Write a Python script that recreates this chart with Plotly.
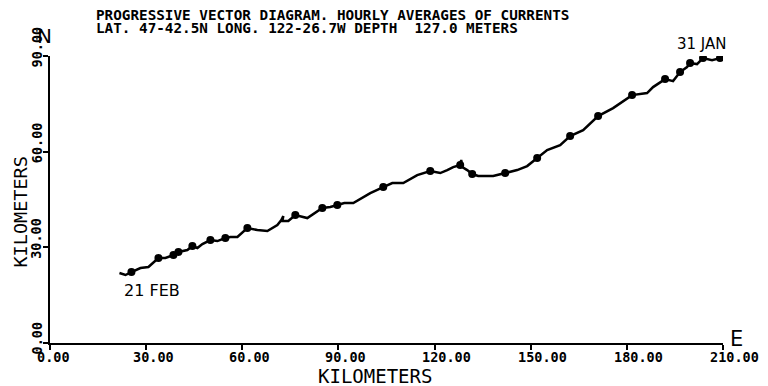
import plotly.graph_objects as go

# ---------------- data (km east, km north) ----------------
track_east = [21.67, 23.54, 25.41, 28.22, 30.71, 32.27, 33.83, 36.01, 38.51, 40.07,
              42.87, 44.43, 45.99, 47.55, 50.05, 52.23, 54.72, 56.28, 58.47, 61.58,
              64.70, 67.82, 70.94, 72.19, 72.81, 72.50, 74.37, 76.55, 80.29, 84.97,
              87.46, 89.65, 91.83, 94.64, 99.94, 103.99, 106.80, 110.23, 114.59, 118.65,
              121.77, 123.95, 125.82, 128.00, 128.31, 128.62, 130.18, 131.74, 133.61, 138.29,
              142.03, 145.77, 148.89, 152.01, 155.13, 159.18, 162.30, 166.36, 171.03, 175.71,
              181.63, 186.31, 188.18, 191.92, 194.42, 196.60, 198.78, 199.72, 201.90, 203.77,
              206.58, 209.07, 209.90]
track_north = [21.94, 21.32, 22.26, 23.51, 23.82, 25.39, 26.65, 26.65, 27.59, 28.53,
               29.15, 30.41, 29.78, 31.03, 32.29, 31.97, 32.92, 33.23, 33.23, 36.05,
               35.42, 35.11, 36.99, 38.56, 39.81, 38.24, 38.24, 40.13, 39.18, 42.32,
               42.63, 43.26, 43.89, 43.89, 47.02, 48.90, 50.16, 50.16, 52.66, 53.92,
               53.29, 54.23, 55.17, 55.80, 57.37, 55.17, 54.23, 52.98, 52.35, 52.35,
               53.29, 54.23, 55.49, 57.99, 60.50, 62.07, 64.89, 66.77, 71.16, 73.67,
               77.74, 78.37, 80.25, 82.76, 82.13, 84.95, 86.52, 87.77, 87.46, 89.34,
               88.71, 89.34, 89.66]

loop_east = [25.41, 33.83, 38.51, 40.07, 44.43, 50.05, 54.72, 61.58, 76.55, 84.97,
             89.65, 103.99, 118.65, 128.00, 131.74, 142.03, 152.01, 162.30, 171.03, 181.63,
             191.92, 196.60, 199.72, 203.77, 209.07]
loop_north = [22.26, 26.65, 27.59, 28.53, 30.41, 32.29, 32.92, 36.05, 40.13, 42.32,
              43.26, 48.90, 53.92, 55.80, 52.98, 53.29, 57.99, 64.89, 71.16, 77.74,
              82.76, 84.95, 87.77, 89.34, 89.34]

x_ticks = [0, 30, 60, 90, 120, 150, 180, 210]
x_tick_labels = ["0.00", "30.00", "60.00", "90.00", "120.00", "150.00", "180.00", "210.00"]
y_ticks = [0, 30, 60, 90]
y_tick_labels = ["0.00", "30.00", "60.00", "90.00"]

title_1 = "PROGRESSIVE VECTOR DIAGRAM. HOURLY AVERAGES OF CURRENTS"
title_2 = "LAT. 47-42.5N LONG. 122-26.7W DEPTH&nbsp; 127.0 METERS"
axis_title = "KILOMETERS"
start_label = "31 JAN"
end_label = "21 FEB"

# ---------------- layout geometry (pixels) ----------------
W, H = 768, 386
PL, PR, PT, PB = 49.5, 723, 56, 343


def px_x(px):
    return (px - PL) / (PR - PL)


def px_y(py):
    return (PB - py) / (PB - PT)


MONO = "DejaVu Sans Mono"
fig = go.Figure()
fig.add_trace(go.Scatter(x=track_east, y=track_north, mode="lines",
                         line=dict(color="black", width=2.5), hoverinfo="skip"))
fig.add_trace(go.Scatter(x=loop_east, y=loop_north, mode="markers",
                         marker=dict(color="black", size=8, symbol="circle"),
                         hoverinfo="skip"))

ann = []
for v, t in zip(x_ticks, x_tick_labels):
    ann.append(dict(x=v, xref="x", y=0, yref="paper", text=t, showarrow=False,
                    xanchor="left", yanchor="middle", xshift=-14, yshift=-13.5,
                    borderpad=0,
                    font=dict(family=MONO, size=13.5, color="black", weight="bold")))
for v, t in zip(y_ticks, y_tick_labels):
    ann.append(dict(x=0, xref="paper", y=v, yref="y", text=t, showarrow=False,
                    textangle=-90, xanchor="center", yanchor="bottom",
                    xshift=-13.5, yshift=-12.5, borderpad=0,
                    font=dict(family=MONO, size=13.5, color="black", weight="bold")))

ann.append(dict(x=px_x(95), xref="paper", y=px_y(15), yref="paper", text=title_1,
                showarrow=False, xanchor="left", yanchor="middle", borderpad=0,
                font=dict(family=MONO, size=14.3, color="black", weight="bold")))
ann.append(dict(x=px_x(95), xref="paper", y=px_y(28), yref="paper", text=title_2,
                showarrow=False, xanchor="left", yanchor="middle", borderpad=0,
                font=dict(family=MONO, size=14.3, color="black", weight="bold")))
ann.append(dict(x=px_x(375), xref="paper", y=px_y(376), yref="paper", text=axis_title,
                showarrow=False, xanchor="center", yanchor="middle",
                font=dict(family=MONO, size=19, color="black")))
ann.append(dict(x=px_x(19), xref="paper", y=px_y(212), yref="paper", text=axis_title,
                showarrow=False, xanchor="center", yanchor="middle", textangle=-90,
                font=dict(family=MONO, size=18.5, color="black")))
ann.append(dict(x=px_x(44), xref="paper", y=px_y(35.5), yref="paper", text="N",
                showarrow=False, xanchor="center", yanchor="middle",
                font=dict(family="DejaVu Sans", size=20, color="black")))
ann.append(dict(x=px_x(736.5), xref="paper", y=px_y(339), yref="paper", text="E",
                showarrow=False, xanchor="center", yanchor="middle",
                font=dict(family="DejaVu Sans", size=21, color="black")))
ann.append(dict(x=px_x(152), xref="paper", y=px_y(290), yref="paper", text=end_label,
                showarrow=False, xanchor="center", yanchor="middle",
                font=dict(family="DejaVu Sans", size=16, color="black")))
ann.append(dict(x=px_x(702), xref="paper", y=px_y(44), yref="paper", text=start_label,
                showarrow=False, xanchor="center", yanchor="middle",
                font=dict(family="DejaVu Sans", size=15, color="black")))

fig.update_layout(
    width=W, height=H,
    margin=dict(l=PL, r=W - PR, t=PT, b=H - PB, pad=0),
    paper_bgcolor="white", plot_bgcolor="white",
    showlegend=False,
    annotations=ann,
    xaxis=dict(range=[0, 210], showgrid=False, zeroline=False, showline=True,
               linecolor="black", linewidth=2, ticks="outside", ticklen=5,
               tickwidth=1.5, tickcolor="black", tickvals=x_ticks,
               showticklabels=False),
    yaxis=dict(range=[0, 90], showgrid=False, zeroline=False, showline=True,
               linecolor="black", linewidth=2, ticks="outside", ticklen=5,
               tickwidth=1.5, tickcolor="black", tickvals=y_ticks,
               showticklabels=False),
)

fig.write_html("out.html")
